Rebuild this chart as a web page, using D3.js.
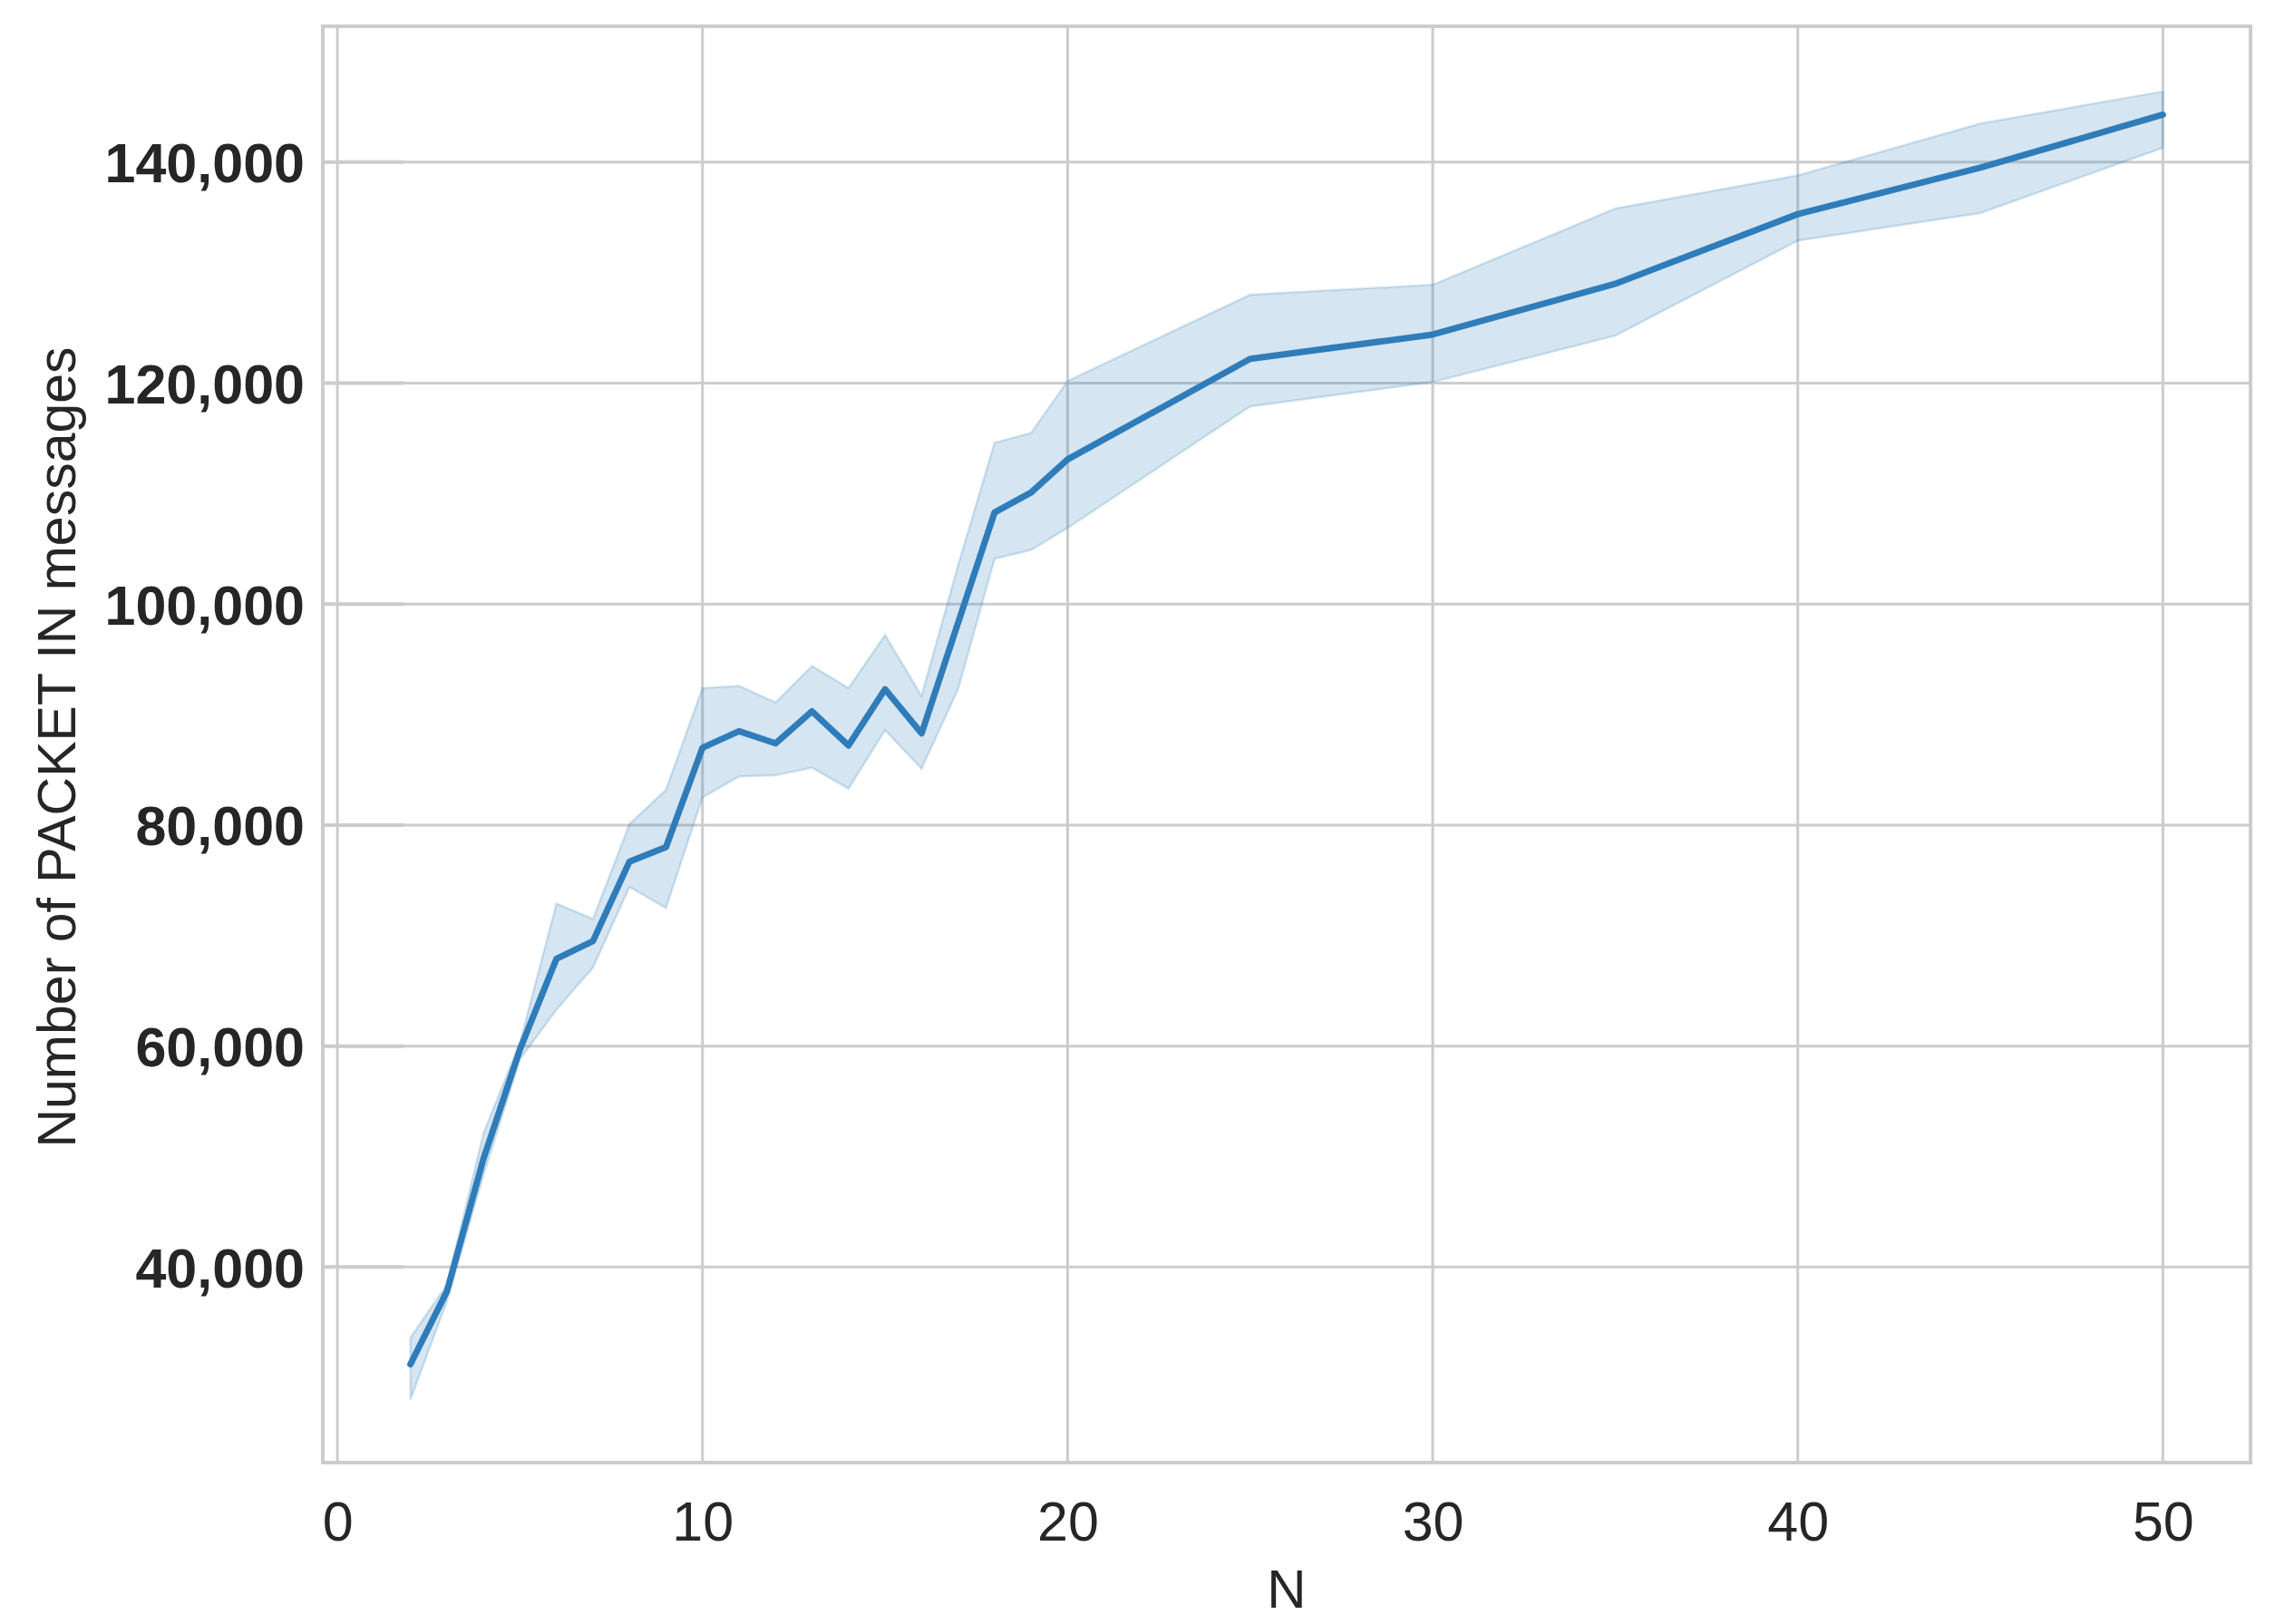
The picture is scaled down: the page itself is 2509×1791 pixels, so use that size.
<!DOCTYPE html>
<html>
<head>
<meta charset="utf-8">
<script src="https://cdn.jsdelivr.net/npm/d3@7"></script>
<style>
  html, body { margin: 0; padding: 0; background: #fff; }
  svg { display: block; font-family: "Liberation Sans", Arial, sans-serif; }
</style>
</head>
<body>
<svg id="chart" width="2509" height="1791"></svg>
<script>
'use strict';

// ── Data ─────────────────────────────────────────────────────
const N_VALUES = [2, 3, 4, 5, 6, 7, 8, 9, 10, 11, 12, 13, 14, 15, 16, 17, 18, 19, 20, 25, 30, 35, 40, 45, 50];
const MEAN     = [31200, 37800, 49800, 59700, 67900, 69500, 76700, 78000, 87000, 88500, 87400, 90300, 87200,
                  92300, 88300, 98300, 108300, 110100, 113100, 122200, 124400, 129000, 135300, 139500, 144300];
const CI_LOW   = [28000, 36900, 48300, 58800, 63300, 67100, 74400, 72500, 82500, 84400, 84500, 85200, 83300,
                  88600, 85100, 92300, 104100, 104900, 106900, 117900, 120100, 124300, 132900, 135400, 141300];
const CI_HIGH  = [33600, 38400, 52100, 60300, 72900, 71500, 80100, 83200, 92400, 92600, 91100, 94400, 92400,
                  97200, 91700, 103500, 114600, 115500, 120200, 128000, 128900, 135800, 138800, 143500, 146400];

const X_TICKS = [0, 10, 20, 30, 40, 50];
const Y_TICKS = [40000, 60000, 80000, 100000, 120000, 140000];

const X_LABEL = 'N';
const Y_LABEL = 'Number of PACKET IN messages';

// ── Layout ───────────────────────────────────────────────────
const PLOT = { left: 356, right: 2482, top: 29, bottom: 1613 };
const GRID_COLOR = '#cccccc';
const LINE_COLOR = '#2f7cba';
const TEXT_COLOR = '#262626';

const rows = N_VALUES.map((n, i) => ({ n, mean: MEAN[i], lo: CI_LOW[i], hi: CI_HIGH[i] }));

const x = d3.scaleLinear().domain([-0.4, 52.4]).range([PLOT.left, PLOT.right]);
const y = d3.scaleLinear().domain([22300, 152300]).range([PLOT.bottom, PLOT.top]);

const svg = d3.select('#chart');

// ── Grid ─────────────────────────────────────────────────────
const grid = svg.append('g').attr('class', 'grid');

grid.selectAll('line.gx').data(X_TICKS).join('line')
  .attr('class', 'gx')
  .attr('x1', d => x(d)).attr('x2', d => x(d))
  .attr('y1', PLOT.top).attr('y2', PLOT.bottom)
  .attr('stroke', GRID_COLOR).attr('stroke-width', 3);

grid.selectAll('line.gy').data(Y_TICKS).join('line')
  .attr('class', 'gy')
  .attr('x1', PLOT.left).attr('x2', PLOT.right)
  .attr('y1', d => y(d)).attr('y2', d => y(d))
  .attr('stroke', GRID_COLOR).attr('stroke-width', 3);

// faint tick stubs along the left spine
grid.selectAll('line.ty').data(Y_TICKS).join('line')
  .attr('class', 'ty')
  .attr('x1', PLOT.left).attr('x2', PLOT.left + 90)
  .attr('y1', d => y(d)).attr('y2', d => y(d))
  .attr('stroke', GRID_COLOR).attr('stroke-width', 4);

// ── Confidence band + mean line ──────────────────────────────
const band = d3.area()
  .x(d => x(d.n))
  .y0(d => y(d.lo))
  .y1(d => y(d.hi));

svg.append('path')
  .datum(rows)
  .attr('d', band)
  .attr('fill', LINE_COLOR)
  .attr('fill-opacity', 0.2)
  .attr('stroke', LINE_COLOR)
  .attr('stroke-opacity', 0.2)
  .attr('stroke-width', 2.5);

const line = d3.line()
  .x(d => x(d.n))
  .y(d => y(d.mean));

svg.append('path')
  .datum(rows)
  .attr('d', line)
  .attr('fill', 'none')
  .attr('stroke', LINE_COLOR)
  .attr('stroke-width', 7)
  .attr('stroke-linejoin', 'round')
  .attr('stroke-linecap', 'round');

// ── Frame ────────────────────────────────────────────────────
svg.append('rect')
  .attr('x', PLOT.left).attr('y', PLOT.top)
  .attr('width', PLOT.right - PLOT.left)
  .attr('height', PLOT.bottom - PLOT.top)
  .attr('fill', 'none')
  .attr('stroke', GRID_COLOR)
  .attr('stroke-width', 4);

// ── Axes ─────────────────────────────────────────────────────
const fmt = d3.format(',');

const xAxis = svg.append('g')
  .attr('transform', `translate(0,${PLOT.bottom})`)
  .call(d3.axisBottom(x).tickValues(X_TICKS).tickSize(0).tickPadding(86).tickFormat(d3.format('d')));

xAxis.select('.domain').remove();
xAxis.selectAll('text')
  .attr('font-size', 61)
  .attr('font-family', '"Liberation Sans", Arial, sans-serif')
  .attr('fill', TEXT_COLOR)
  .attr('dy', 0);

const yAxis = svg.append('g')
  .attr('transform', `translate(${PLOT.left},0)`)
  .call(d3.axisLeft(y).tickValues(Y_TICKS).tickSize(0).tickPadding(20).tickFormat(fmt));

yAxis.select('.domain').remove();
yAxis.selectAll('text')
  .attr('font-size', 61)
  .attr('font-weight', 'bold')
  .attr('font-family', '"Liberation Sans", Arial, sans-serif')
  .attr('fill', TEXT_COLOR)
  .attr('dy', '0.36em');

// ── Axis titles ──────────────────────────────────────────────
svg.append('text')
  .attr('x', (PLOT.left + PLOT.right) / 2)
  .attr('y', 1773)
  .attr('text-anchor', 'middle')
  .attr('font-size', 60)
  .attr('fill', TEXT_COLOR)
  .text(X_LABEL);

svg.append('text')
  .attr('transform', `translate(83,${(PLOT.top + PLOT.bottom) / 2 + 3}) rotate(-90)`)
  .attr('text-anchor', 'middle')
  .attr('font-size', 59)
  .attr('fill', TEXT_COLOR)
  .text(Y_LABEL);
</script>
</body>
</html>
